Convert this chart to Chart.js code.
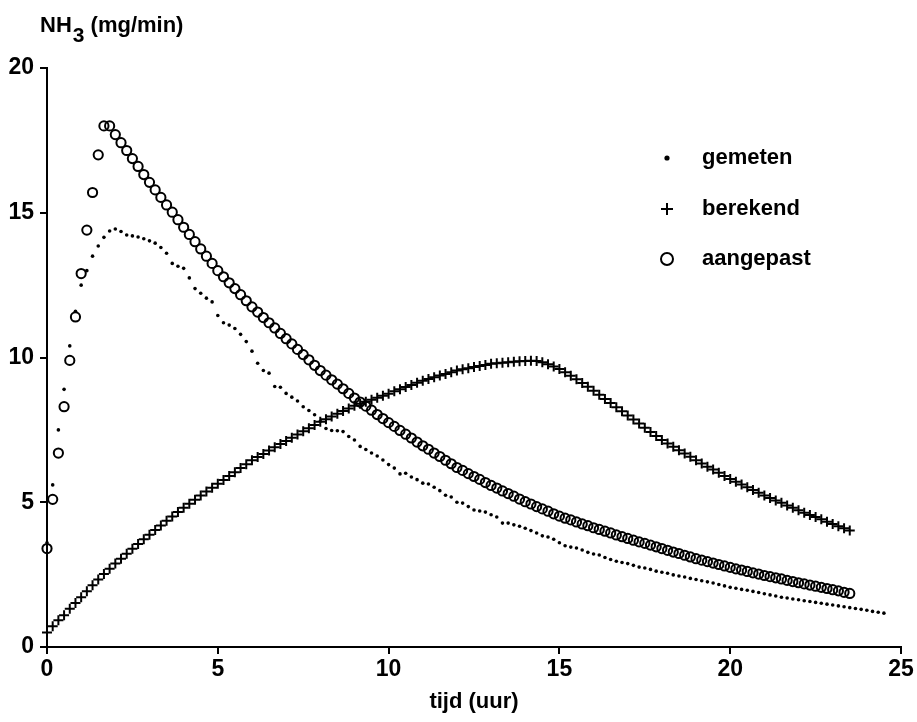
<!DOCTYPE html>
<html>
<head>
<meta charset="utf-8">
<script src="https://cdn.jsdelivr.net/npm/chart.js@4/dist/chart.umd.min.js"></script>
<style>
  html, body { margin: 0; padding: 0; background: #fff; }
  #wrap { width: 917px; height: 722px; }
</style>
</head>
<body>
<div id="wrap"><canvas id="c" width="917" height="722"></canvas></div>
<script>
// samples every 10 minutes (1/6 h), starting at t = 0
const STEP_H = 1 / 6

const gemeten = [
  3.6, 5.6, 7.5, 8.9, 10.4, 11.6,
  12.5, 13.0, 13.5, 13.85, 14.15, 14.37,
  14.44, 14.35, 14.23, 14.2, 14.16, 14.1,
  14.03, 13.95, 13.8, 13.6, 13.25, 13.15,
  13.08, 12.75, 12.38, 12.22, 12.05, 11.92,
  11.45, 11.2, 11.12, 11.0, 10.8, 10.55,
  10.22, 9.8, 9.55, 9.46, 9.0, 8.97,
  8.76, 8.63, 8.5, 8.3, 8.17, 8.02,
  7.8, 7.55, 7.48, 7.47, 7.44, 7.27,
  7.15, 6.93, 6.82, 6.7, 6.6, 6.46,
  6.3, 6.18, 5.98, 6.0, 5.87, 5.78,
  5.66, 5.63, 5.52, 5.4, 5.24, 5.18,
  5.0, 4.97, 4.85, 4.73, 4.7, 4.66,
  4.57, 4.49, 4.28, 4.28, 4.22, 4.17,
  4.1, 4.02, 3.94, 3.84, 3.8, 3.72,
  3.6, 3.5, 3.45, 3.42, 3.35, 3.27,
  3.21, 3.18, 3.09, 3.02, 2.96, 2.92,
  2.88, 2.82, 2.76, 2.73, 2.68, 2.62,
  2.58, 2.55, 2.49, 2.45, 2.42, 2.37,
  2.33, 2.29, 2.25, 2.21, 2.16, 2.11,
  2.06, 2.03, 1.99, 1.96, 1.92, 1.88,
  1.84, 1.8, 1.76, 1.72, 1.69, 1.66,
  1.63, 1.6, 1.57, 1.54, 1.51, 1.48,
  1.45, 1.42, 1.39, 1.36, 1.33, 1.3,
  1.27, 1.23, 1.2, 1.17
]

const berekend = [
  0.50, 0.72, 0.92, 1.10, 1.32, 1.52,
  1.72, 1.93, 2.13, 2.33, 2.52, 2.70,
  2.88, 3.05, 3.22, 3.39, 3.56, 3.72,
  3.88, 4.04, 4.20, 4.36, 4.51, 4.66,
  4.81, 4.95, 5.09, 5.23, 5.37, 5.50,
  5.64, 5.77, 5.91, 6.04, 6.18, 6.31,
  6.45, 6.56, 6.67, 6.79, 6.90, 7.01,
  7.12, 7.23, 7.34, 7.45, 7.56, 7.67,
  7.78, 7.87, 7.96, 8.06, 8.15, 8.24,
  8.33, 8.40, 8.47, 8.54, 8.61, 8.68,
  8.75, 8.83, 8.90, 8.98, 9.05, 9.13,
  9.20, 9.26, 9.32, 9.38, 9.43, 9.49,
  9.55, 9.59, 9.63, 9.67, 9.71, 9.74,
  9.78, 9.80, 9.82, 9.84, 9.85, 9.87,
  9.88, 9.89, 9.88, 9.84, 9.77, 9.69,
  9.60, 9.49, 9.37, 9.25, 9.12, 8.99,
  8.85, 8.71, 8.57, 8.43, 8.28, 8.14,
  8.00, 7.86, 7.72, 7.57, 7.43, 7.29,
  7.15, 7.03, 6.92, 6.80, 6.68, 6.57,
  6.45, 6.34, 6.23, 6.13, 6.02, 5.91,
  5.80, 5.71, 5.61, 5.52, 5.42, 5.33,
  5.23, 5.15, 5.06, 4.98, 4.89, 4.81,
  4.72, 4.64, 4.56, 4.49, 4.41, 4.33,
  4.25, 4.17, 4.10, 4.02
]

const aangepast = [
  3.4, 5.1, 6.7, 8.3, 9.9, 11.4,
  12.9, 14.4, 15.7, 17.0, 18.0, 18.0,
  17.70, 17.42, 17.15, 16.87, 16.60, 16.32,
  16.05, 15.79, 15.53, 15.27, 15.02, 14.76,
  14.50, 14.25, 14.00, 13.75, 13.50, 13.25,
  13.00, 12.79, 12.58, 12.38, 12.17, 11.96,
  11.75, 11.57, 11.38, 11.20, 11.02, 10.83,
  10.65, 10.47, 10.28, 10.10, 9.92, 9.73,
  9.55, 9.39, 9.23, 9.08, 8.92, 8.76,
  8.60, 8.46, 8.32, 8.18, 8.03, 7.89,
  7.75, 7.62, 7.48, 7.35, 7.22, 7.08,
  6.95, 6.83, 6.70, 6.58, 6.45, 6.33,
  6.20, 6.10, 5.99, 5.89, 5.79, 5.68,
  5.58, 5.49, 5.39, 5.30, 5.21, 5.11,
  5.02, 4.94, 4.85, 4.77, 4.69, 4.60,
  4.52, 4.45, 4.39, 4.32, 4.25, 4.19,
  4.12, 4.06, 4.00, 3.94, 3.87, 3.81,
  3.75, 3.69, 3.63, 3.58, 3.52, 3.46,
  3.40, 3.34, 3.28, 3.23, 3.17, 3.11,
  3.05, 3.00, 2.95, 2.90, 2.85, 2.80,
  2.75, 2.70, 2.66, 2.61, 2.56, 2.52,
  2.47, 2.43, 2.39, 2.35, 2.30, 2.26,
  2.22, 2.18, 2.14, 2.10, 2.06, 2.02,
  1.98, 1.94, 1.89, 1.85
]

const xTicks = [0, 5, 10, 15, 20, 25]
const yTicks = [0, 5, 10, 15, 20]

const FONT = '"Liberation Sans", Arial, Helvetica, sans-serif'

const toPoints = (vals) => vals.map((v, i) => ({ x: i * STEP_H, y: v }))

// axis titles and the legend are drawn by hand, like the original print
const decorations = {
  id: 'decorations',
  afterDraw(chart) {
    const ctx = chart.ctx
    const area = chart.chartArea
    ctx.save()
    ctx.fillStyle = '#000'
    ctx.textBaseline = 'alphabetic'

    // y title: NH3 (mg/min), with lowered 3
    ctx.font = 'bold 22px ' + FONT
    ctx.textAlign = 'left'
    let x = 40
    ctx.fillText('NH', x, 32)
    x += ctx.measureText('NH').width
    ctx.font = 'bold 21px ' + FONT
    ctx.fillText('3', x + 1, 42)
    x += ctx.measureText('3').width + 1
    ctx.font = 'bold 22px ' + FONT
    ctx.fillText(' (mg/min)', x, 32)

    // x title
    ctx.textAlign = 'center'
    ctx.fillText('tijd (uur)', (area.left + area.right) / 2, 708)

    // legend
    const items = chart.data.datasets
    const mx = 667, tx = 702
    const rows = [158, 209, 259]
    items.forEach((ds, k) => {
      const y = rows[k]
      ctx.lineWidth = ds.borderWidth
      ctx.strokeStyle = '#000'
      ctx.fillStyle = ds.backgroundColor
      Chart.helpers.drawPoint(ctx, {
        pointStyle: ds.pointStyle,
        radius: ds.legendRadius,
        borderWidth: ds.borderWidth
      }, mx, y)
      ctx.fillStyle = '#000'
      ctx.textAlign = 'left'
      ctx.textBaseline = 'middle'
      ctx.font = 'bold 22px ' + FONT
      ctx.fillText(ds.label, tx, y)
    })
    ctx.restore()
  }
}

const ctx = document.getElementById('c')
new Chart(ctx, {
  type: 'scatter',
  data: {
    datasets: [
      {
        label: 'gemeten',
        data: toPoints(gemeten),
        pointStyle: 'circle',
        pointRadius: 1.8,
        backgroundColor: '#000',
        borderColor: '#000',
        borderWidth: 0,
        legendRadius: 2.6,
        clip: false
      },
      {
        label: 'berekend',
        data: toPoints(berekend),
        pointStyle: 'cross',
        pointRadius: 5,
        backgroundColor: '#000',
        borderColor: '#000',
        borderWidth: 2,
        legendRadius: 6,
        clip: false
      },
      {
        label: 'aangepast',
        data: toPoints(aangepast),
        pointStyle: 'circle',
        pointRadius: 4.6,
        backgroundColor: 'rgba(0,0,0,0)',
        borderColor: '#000',
        borderWidth: 2,
        legendRadius: 6,
        clip: false
      }
    ]
  },
  options: {
    responsive: false,
    animation: false,
    layout: { padding: { top: 68, right: 16, left: 0, bottom: 0 } },
    plugins: {
      legend: { display: false },
      tooltip: { enabled: false }
    },
    scales: {
      x: {
        type: 'linear',
        min: 0,
        max: 25,
        afterBuildTicks: (s) => { s.ticks = xTicks.map(v => ({ value: v })) },
        afterFit: (s) => { s.height = 75 },
        border: { color: '#000', width: 2 },
        grid: { drawOnChartArea: false, drawTicks: true, tickLength: 7, color: '#000', lineWidth: 2 },
        ticks: { color: '#000', padding: 2, font: { family: FONT, size: 23, weight: 'bold' }, maxRotation: 0 }
      },
      y: {
        min: 0,
        max: 20,
        afterBuildTicks: (s) => { s.ticks = yTicks.map(v => ({ value: v })) },
        afterFit: (s) => { s.width = 47 },
        border: { color: '#000', width: 2 },
        grid: { drawOnChartArea: false, drawTicks: true, tickLength: 7, color: '#000', lineWidth: 2 },
        ticks: { color: '#000', padding: 6, font: { family: FONT, size: 23, weight: 'bold' } }
      }
    }
  },
  plugins: [decorations]
})
</script>
</body>
</html>
